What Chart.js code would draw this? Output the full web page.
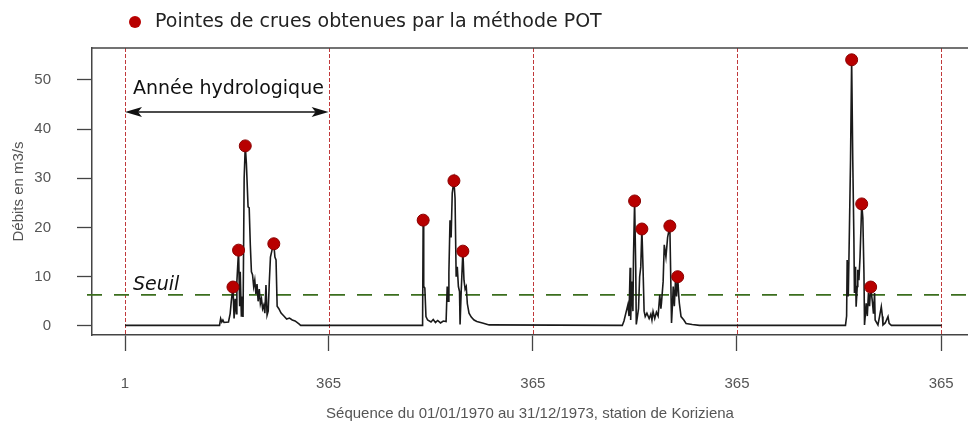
<!DOCTYPE html>
<html>
<head>
<meta charset="utf-8">
<script src="https://cdn.jsdelivr.net/npm/chart.js@4.4.1/dist/chart.umd.min.js"></script>
<style>
  html, body { margin: 0; padding: 0; background: #fff; overflow: hidden; }
  #wrap { width: 968px; height: 428px; position: relative; }
</style>
</head>
<body>
<div id="wrap"><canvas id="c"></canvas></div>
<script>
// Daily discharge (m3/s) at Koriziena, 01/01/1970 - 31/12/1973, day index 1..1461
const flowDays = [
  1, 170, 172, 174, 176, 178, 186, 189, 191, 194, 196, 198, 200, 201, 204, 206, 207, 209, 210, 212,
  214, 216, 218, 221, 223, 225, 227, 229, 231, 233, 235, 237, 239, 241, 243, 245, 247, 249, 251, 253,
  255, 257, 259, 261, 264, 267, 269, 271, 273, 276, 280, 285, 290, 295, 300, 305, 312, 315,
  532, 533, 534, 535, 537, 539, 542, 548, 552, 556, 560, 565, 570, 575, 577, 579, 580, 582, 584, 586,
  589, 591, 593, 595, 597, 599, 600, 602, 605, 607, 609, 611, 613, 616, 620, 625, 630, 640, 652,
  890, 893, 897, 900, 902, 904, 905, 907, 909, 910, 912, 914, 915, 917, 919, 921, 923, 925, 927, 929,
  931, 934, 938, 941, 943, 945, 948, 951, 954, 957, 959, 960, 963, 965, 968, 971, 975, 977, 978, 980,
  981, 983, 985, 987, 989, 991, 992, 995, 1000, 1004, 1015, 1028,
  1289, 1291, 1292, 1294, 1296, 1298, 1300, 1302, 1304, 1305, 1307, 1308, 1310, 1311, 1313, 1315, 1318,
  1320, 1322, 1323, 1325, 1326, 1328, 1330, 1332, 1334, 1337, 1339, 1341, 1342, 1347, 1350, 1353, 1355,
  1356, 1360, 1365, 1367, 1371, 1461
];
const flowValues = [
  0.1, 0.1, 1.5, 0.8, 1.2, 0.7, 0.8, 2.5, 5.0, 7.9, 1.5, 5.5, 2.5, 9.0, 15.4, 4.0, 11, 2.0, 6, 1.8,
  30, 36.6, 33, 24.2, 24, 16.5, 11, 10.4, 8, 9.3, 6.5, 8.5, 5, 7.5, 4.5, 5.5, 3.5, 4.2, 2.6, 8.3,
  2.2, 3, 9, 14, 15.5, 16.7, 14, 13.4, 4.0, 3.5, 2.6, 2.0, 1.4, 1.6, 1.2, 1.0, 0.4, 0.1,
  0.1, 1.0, 21.5, 8, 7.7, 1.9, 1.2, 0.8, 1.3, 0.7, 1.1, 0.6, 1.0, 0.9, 8, 5, 10.8, 21.5, 18, 27,
  29.5, 26, 10, 12, 8, 7, 0.3, 7, 15.2, 9.3, 7.5, 8, 4.5, 2.6, 1.8, 1.2, 0.9, 0.6, 0.2,
  0.1, 1.0, 2.9, 4.3, 2.0, 11.8, 1.2, 9.0, 3.0, 14, 25.4, 12, 0.3, 1.9, 3.5, 10, 12, 19.7, 12, 3,
  1.9, 2.6, 1.5, 2.4, 1.2, 2.9, 1.5, 2.8, 2.0, 6.3, 3.5, 4.6, 9, 16.5, 14, 18, 20.3, 7.3, 0.6, 5,
  8, 4, 9, 6, 10.0, 6, 4.6, 1.9, 1.2, 0.5, 0.3, 0.1,
  0.1, 2, 13.4, 6, 19.5, 33.7, 54.1, 33.7, 18, 6.7, 12, 3.9, 8, 11.4, 9.3, 14, 24.8,
  22, 10.8, 0.2, 3, 4.6, 2, 6.7, 4, 7.9, 5, 2.5, 6.7, 1.2, 0.2, 2, 3.9, 1.9,
  0.2, 0.6, 1.9, 0.5, 0.1, 0.1
];

// Flood peaks retained by the POT (peaks-over-threshold) method
const peakDays   = [194, 204, 216, 267, 534, 589, 605, 912, 925, 975, 989, 1300, 1318, 1334];
const peakValues = [7.9, 15.4, 36.6, 16.7, 21.5, 29.5, 15.2, 25.4, 19.7, 20.3, 10.0, 54.1, 24.8, 7.9];

// Threshold and hydrological-year boundaries
const threshold = 6.3;
const yearTicks = [1, 365, 730, 1095, 1460];
const yearTickLabels = ['1', '365', '365', '365', '365'];
const flowTicks = [0, 10, 20, 30, 40, 50];

const flowPoints = flowDays.map((d, i) => ({ x: d, y: flowValues[i] }));
const peakPoints = peakDays.map((d, i) => ({ x: d, y: peakValues[i] }));

const axisFont = { family: '"Liberation Sans Narrow", "Liberation Sans", Arial', size: 15 };
const noteFont = '19px "DejaVu Sans", Verdana, sans-serif';

function arrowHead(ctx, x, y, dir) {
  ctx.beginPath();
  ctx.moveTo(x, y);
  ctx.lineTo(x + dir * 17, y - 5);
  ctx.lineTo(x + dir * 13, y);
  ctx.lineTo(x + dir * 17, y + 5);
  ctx.closePath();
  ctx.fill();
}

const overlay = {
  id: 'overlay',
  beforeDatasetsDraw(chart) {
    const { ctx, chartArea: a, scales: { x, y } } = chart;
    ctx.save();
    // year boundaries
    ctx.strokeStyle = '#c0393b';
    ctx.lineWidth = 1;
    ctx.setLineDash([4, 2]);
    yearTicks.forEach(d => {
      const px = Math.round(x.getPixelForValue(d)) + 0.5;
      ctx.beginPath();
      ctx.moveTo(px, a.top);
      ctx.lineTo(px, a.bottom);
      ctx.stroke();
    });
    // threshold
    ctx.strokeStyle = '#3b6e1e';
    ctx.lineWidth = 1.6;
    ctx.setLineDash([15, 12]);
    const ty = y.getPixelForValue(threshold);
    ctx.beginPath();
    ctx.moveTo(a.left - 5, ty);
    ctx.lineTo(a.right, ty);
    ctx.stroke();
    ctx.restore();
  },
  afterDraw(chart) {
    const { ctx, chartArea: a, scales: { x, y } } = chart;
    ctx.save();
    // top frame line
    ctx.strokeStyle = '#444';
    ctx.lineWidth = 1.5;
    ctx.beginPath();
    ctx.moveTo(a.left, a.top);
    ctx.lineTo(a.right, a.top);
    ctx.stroke();

    // hydrological year arrow
    const x1 = x.getPixelForValue(yearTicks[0]);
    const x2 = x.getPixelForValue(yearTicks[1]);
    const ay = y.getPixelForValue(43.5);
    ctx.strokeStyle = '#111';
    ctx.fillStyle = '#111';
    ctx.lineWidth = 1.5;
    ctx.beginPath();
    ctx.moveTo(x1 + 8, ay);
    ctx.lineTo(x2 - 8, ay);
    ctx.stroke();
    arrowHead(ctx, x1, ay, 1);
    arrowHead(ctx, x2, ay, -1);

    ctx.font = noteFont;
    ctx.textBaseline = 'middle';
    ctx.textAlign = 'left';
    ctx.fillText('Année hydrologique', x1 + 8, y.getPixelForValue(48.2));

    ctx.font = 'italic ' + noteFont;
    ctx.fillText('Seuil', x1 + 8, y.getPixelForValue(8.4));

    // legend
    ctx.fillStyle = '#b80000';
    ctx.beginPath();
    ctx.arc(135, 22, 6, 0, Math.PI * 2);
    ctx.fill();
    ctx.fillStyle = '#222';
    ctx.font = noteFont;
    ctx.fillText('Pointes de crues obtenues par la méthode POT', 155, 22);
    ctx.restore();
  }
};

new Chart(document.getElementById('c'), {
  data: {
    datasets: [
      {
        type: 'scatter',
        label: 'Pointes de crues obtenues par la méthode POT',
        data: peakPoints,
        backgroundColor: '#b80000',
        borderColor: '#8a0000',
        borderWidth: 1,
        pointRadius: 6,
        order: 0
      },
      {
        type: 'line',
        label: 'Débits',
        data: flowPoints,
        borderColor: '#1a1a1a',
        borderWidth: 1.6,
        pointRadius: 0,
        tension: 0,
        fill: false,
        order: 1
      }
    ]
  },
  options: {
    responsive: true,
    maintainAspectRatio: false,
    devicePixelRatio: 1,
    animation: false,
    layout: { autoPadding: false, padding: { top: 48, left: 0, right: 0, bottom: 0 } },
    plugins: { legend: { display: false }, tooltip: { enabled: false } },
    scales: {
      x: {
        type: 'linear',
        min: -58,
        max: 1508,
        afterBuildTicks(s) { s.ticks = yearTicks.map(v => ({ value: v })); },
        afterFit(s) { s.height = 93; s.paddingLeft = 0; s.paddingRight = 0; },
        ticks: {
          autoSkip: false,
          maxRotation: 0,
          padding: 24,
          color: '#555',
          font: axisFont,
          callback(v) { return yearTickLabels[yearTicks.indexOf(v)]; }
        },
        grid: { drawOnChartArea: false, drawTicks: true, tickLength: 16, tickColor: '#444', tickWidth: 1.3 },
        border: { display: true, color: '#444', width: 1.5 },
        title: {
          display: true,
          text: 'Séquence du 01/01/1970 au 31/12/1973, station de Koriziena',
          color: '#555',
          font: axisFont,
          padding: { top: 2, bottom: 5 }
        }
      },
      y: {
        type: 'linear',
        min: -1.85,
        max: 56.5,
        afterBuildTicks(s) { s.ticks = flowTicks.map(v => ({ value: v })); },
        afterFit(s) { s.width = 92; },
        ticks: {
          padding: 26,
          color: '#555',
          font: axisFont
        },
        grid: { drawOnChartArea: false, drawTicks: true, tickLength: 15, tickColor: '#444', tickWidth: 1.3 },
        border: { display: true, color: '#444', width: 1.5 },
        title: {
          display: true,
          text: 'Débits en m3/s',
          color: '#555',
          font: axisFont,
          padding: { top: 10, bottom: 0 }
        }
      }
    }
  },
  plugins: [overlay]
});
</script>
</body>
</html>
